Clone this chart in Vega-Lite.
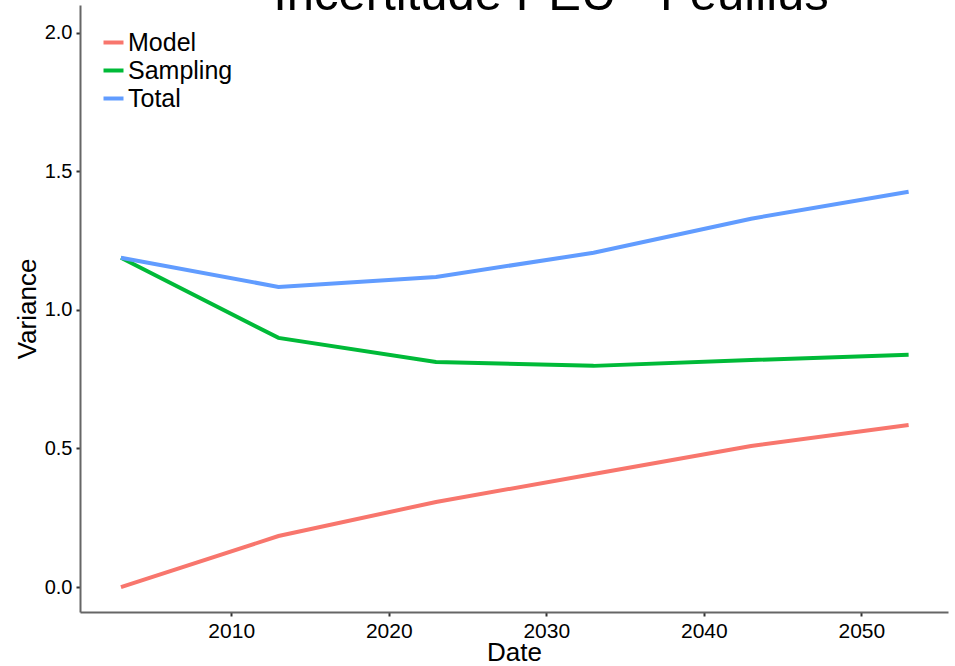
{
  "$schema": "https://vega.github.io/schema/vega-lite/v6.json",
  "width": 868,
  "height": 607,
  "autosize": "none",
  "padding": {"left": 80, "top": 5, "right": 7, "bottom": 54},
  "background": "white",
  "title": {
    "text": "Incertitude PEU - Feuillus",
    "font": "Liberation Sans",
    "fontSize": 49,
    "fontWeight": "normal",
    "color": "black",
    "anchor": "middle",
    "offset": -54,
    "baseline": "alphabetic",
    "dx": 37
  },
  "config": {
    "view": {"stroke": null},
    "font": "Liberation Sans"
  },
  "data": {
    "values": [
      {"Date": 2003, "Type": "Model", "Variance": 0.0},
      {"Date": 2013, "Type": "Model", "Variance": 0.184},
      {"Date": 2023, "Type": "Model", "Variance": 0.307},
      {"Date": 2033, "Type": "Model", "Variance": 0.408},
      {"Date": 2043, "Type": "Model", "Variance": 0.509},
      {"Date": 2053, "Type": "Model", "Variance": 0.585},
      {"Date": 2003, "Type": "Sampling", "Variance": 1.188},
      {"Date": 2013, "Type": "Sampling", "Variance": 0.899},
      {"Date": 2023, "Type": "Sampling", "Variance": 0.812},
      {"Date": 2033, "Type": "Sampling", "Variance": 0.798},
      {"Date": 2043, "Type": "Sampling", "Variance": 0.819},
      {"Date": 2053, "Type": "Sampling", "Variance": 0.838},
      {"Date": 2003, "Type": "Total", "Variance": 1.188},
      {"Date": 2013, "Type": "Total", "Variance": 1.083},
      {"Date": 2023, "Type": "Total", "Variance": 1.119},
      {"Date": 2033, "Type": "Total", "Variance": 1.206},
      {"Date": 2043, "Type": "Total", "Variance": 1.329},
      {"Date": 2053, "Type": "Total", "Variance": 1.426}
    ]
  },
  "mark": {"type": "line", "strokeWidth": 4},
  "encoding": {
    "x": {
      "field": "Date",
      "type": "quantitative",
      "scale": {"domain": [2000.4, 2055.5], "nice": false, "zero": false},
      "axis": {
        "values": [2010, 2020, 2030, 2040, 2050],
        "format": "d",
        "grid": false,
        "domainColor": "#666666",
        "domainWidth": 2,
        "tickColor": "#333333",
        "tickSize": 4,
        "tickWidth": 2,
        "labelFontSize": 21,
        "labelColor": "black",
        "labelPadding": 4,
        "title": "Date",
        "titleFontSize": 26,
        "titleFontWeight": "normal",
        "titleColor": "black",
        "titlePadding": -2
      }
    },
    "y": {
      "field": "Variance",
      "type": "quantitative",
      "scale": {"domain": [-0.09, 2.1], "nice": false, "zero": false},
      "axis": {
        "values": [0, 0.5, 1, 1.5, 2],
        "format": ".1f",
        "grid": false,
        "domainColor": "#666666",
        "domainWidth": 2,
        "tickColor": "#333333",
        "tickSize": 4,
        "tickWidth": 2,
        "labelFontSize": 20,
        "labelColor": "black",
        "labelPadding": 4,
        "title": "Variance",
        "titleFontSize": 26,
        "titleFontWeight": "normal",
        "titleColor": "black",
        "titlePadding": 4
      }
    },
    "color": {
      "field": "Type",
      "type": "nominal",
      "scale": {"domain": ["Model", "Sampling", "Total"], "range": ["#F8766D", "#00BA38", "#619CFF"]},
      "legend": {
        "title": null,
        "orient": "none",
        "legendX": 21,
        "legendY": 25,
        "padding": 0,
        "symbolType": "stroke",
        "symbolSize": 400,
        "symbolStrokeWidth": 4,
        "labelFontSize": 25,
        "labelColor": "black",
        "labelOffset": 2,
        "rowPadding": 2
      }
    }
  }
}
